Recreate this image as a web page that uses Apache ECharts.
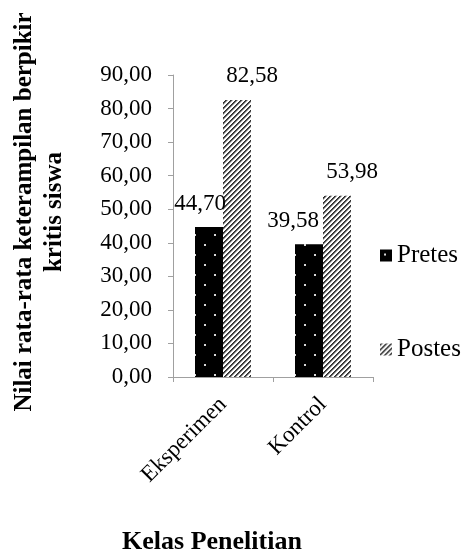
<!DOCTYPE html>
<html>
<head>
<meta charset="utf-8">
<script src="https://cdn.jsdelivr.net/npm/echarts@6/dist/echarts.min.js"></script>
<style>
  html, body { margin: 0; padding: 0; background: #ffffff; }
  #chart { width: 468px; height: 556px; }
</style>
</head>
<body>
<div id="chart"></div>
<script>
// Mean critical-thinking scores per class, pre-test vs post-test
const categories = ['Eksperimen', 'Kontrol'];
const pretes = [44.70, 39.58];
const postes = [82.58, 53.98];
const seriesNames = ['Pretes', 'Postes'];
const yTicks = { min: 0, max: 90, interval: 10 };

const FONT = 'Liberation Serif, Times New Roman, serif';
const fmt = v => v.toFixed(2).replace('.', ',');

// Black fill with small light dots
function dotPattern() {
  const c = document.createElement('canvas');
  c.width = 20; c.height = 20;
  const g = c.getContext('2d');
  g.fillStyle = '#000';
  g.fillRect(0, 0, 20, 20);
  g.fillStyle = '#d8d8d8';
  g.fillRect(4, 4, 2, 2);
  g.fillRect(14, 14, 2, 2);
  return c;
}

// Dark diagonal hatch on white
function hatchPattern() {
  const n = 5;
  const c = document.createElement('canvas');
  c.width = n; c.height = n;
  const g = c.getContext('2d');
  const img = g.createImageData(n, n);
  for (let y = 0; y < n; y++) {
    for (let x = 0; x < n; x++) {
      const k = (x + y) % n;
      let v = 255;
      if (k === 0) v = 45;
      else if (k === 1) v = 80;
      else if (k === 2) v = 185;
      const i = (y * n + x) * 4;
      img.data[i] = img.data[i + 1] = img.data[i + 2] = v;
      img.data[i + 3] = 255;
    }
  }
  g.putImageData(img, 0, 0);
  return c;
}

const dotFill = { image: dotPattern(), repeat: 'repeat' };
const hatchFill = { image: hatchPattern(), repeat: 'repeat' };

// label offsets: pre-test labels sit to the left, post-test to the right
function buildData(values, dx, firstDx) {
  return values.map((v, i) => ({
    value: v,
    label: { offset: [i === 0 && firstDx !== undefined ? firstDx : dx, 0] }
  }));
}

const labelStyle = {
  show: true,
  position: 'top',
  distance: 12,
  fontFamily: FONT,
  fontSize: 23,
  color: '#000',
  formatter: p => fmt(p.value)
};

const chart = echarts.init(document.getElementById('chart'), null, { renderer: 'canvas' });

chart.setOption({
  animation: false,
  backgroundColor: '#ffffff',
  textStyle: { fontFamily: FONT },
  grid: { left: 173, right: 95, top: 75, bottom: 179, containLabel: false },
  legend: {
    orient: 'vertical',
    left: 380,
    top: 243,
    padding: 0,
    itemWidth: 12,
    itemHeight: 12,
    itemGap: 69,
    icon: 'rect',
    textStyle: { fontFamily: FONT, fontSize: 25, color: '#000', lineHeight: 24 },
    data: seriesNames
  },
  xAxis: {
    type: 'category',
    data: categories,
    axisLine: { lineStyle: { color: '#a0a0a0', width: 1 } },
    axisTick: { show: true, length: 5, lineStyle: { color: '#a0a0a0' } },
    axisLabel: {
      rotate: 45,
      margin: 24,
      fontFamily: FONT,
      fontSize: 23,
      color: '#000'
    },
    splitLine: { show: false }
  },
  yAxis: {
    type: 'value',
    min: yTicks.min,
    max: yTicks.max,
    interval: yTicks.interval,
    axisLine: { show: true, lineStyle: { color: '#a0a0a0', width: 1 } },
    axisTick: { show: true, length: 5, lineStyle: { color: '#a0a0a0' } },
    axisLabel: {
      margin: 21,
      fontFamily: FONT,
      fontSize: 23,
      color: '#000',
      formatter: v => fmt(v)
    },
    splitLine: { show: false }
  },
  series: [
    {
      name: seriesNames[0],
      type: 'bar',
      barWidth: 28,
      barGap: '0%',
      itemStyle: { color: dotFill },
      label: labelStyle,
      data: buildData(pretes, -16, -9)
    },
    {
      name: seriesNames[1],
      type: 'bar',
      barWidth: 28,
      barGap: '0%',
      itemStyle: { color: hatchFill },
      label: labelStyle,
      data: buildData(postes, 15)
    }
  ],
  graphic: [
    {
      type: 'text',
      x: 40,
      y: 212,
      rotation: Math.PI / 2,
      style: {
        text: 'Nilai rata-rata keterampilan berpikir\nkritis siswa',
        fontFamily: FONT,
        fontSize: 25,
        fontWeight: 'bold',
        lineHeight: 30,
        fill: '#000',
        align: 'center',
        verticalAlign: 'middle'
      }
    },
    {
      type: 'text',
      x: 212,
      y: 542,
      style: {
        text: 'Kelas Penelitian',
        fontFamily: FONT,
        fontSize: 26,
        fontWeight: 'bold',
        fill: '#000',
        align: 'center',
        verticalAlign: 'middle'
      }
    }
  ]
});
</script>
</body>
</html>
